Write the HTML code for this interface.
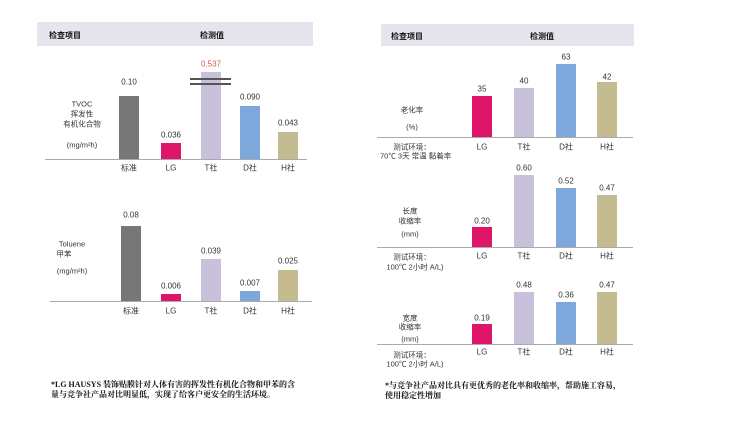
<!DOCTYPE html>
<html><head><meta charset="utf-8"><style>
body{margin:0;width:750px;height:422px;background:#fff;position:relative;overflow:hidden;font-family:"Liberation Sans","Noto Sans CJK SC",sans-serif;color:#333}
div{position:absolute}
.hd{background:#e7e4ee}
.ht{font-size:8px;font-weight:bold;color:#111;font-family:"Liberation Sans","Noto Sans CJK SC",sans-serif}
.b{width:20px}
.v{font-size:8px;color:#333;width:40px;text-align:center;transform:translateY(-50%)}
.c{font-size:8px;color:#333;width:40px;text-align:center;transform:translateY(-50%)}
.l{font-size:7.5px;color:#333;text-align:center;transform:translateY(-50%);white-space:nowrap}
.ax{height:1px;background:#aaa}
.fn{font-size:8px;font-weight:bold;color:#111;font-family:"Liberation Serif","Noto Serif CJK SC",serif;line-height:10px}
.g{background:#777}.p{background:#df1569}.t{background:#c9c1dc}.d{background:#7ea8dc}.h{background:#c5bb90}
</style></head><body>
<!-- left header -->
<div class="hd" style="left:37px;top:22px;width:276px;height:24px"></div>
<div class="ht" style="left:49px;top:30px">检查项目</div>
<div class="ht" style="left:200px;top:30px">检测值</div>

<!-- TVOC -->
<div class="ax" style="left:45px;top:159px;width:262px"></div>
<div class="b g" style="left:119px;top:96px;height:63px"></div>
<div class="b p" style="left:161px;top:143px;height:16px"></div>
<div class="b t" style="left:201px;top:72px;height:87px"></div>
<div class="b d" style="left:240px;top:106px;height:53px"></div>
<div class="b h" style="left:278px;top:132px;height:27px"></div>
<div style="left:190px;top:78px;width:41px;height:2px;background:#555"></div>
<div style="left:190px;top:83px;width:41px;height:2px;background:#555"></div>
<div class="v" style="left:109px;top:82px">0.10</div>
<div class="v" style="left:151px;top:135px">0.036</div>
<div class="v" style="left:191px;top:64px;color:#d9534f">0.537</div>
<div class="v" style="left:230px;top:97px">0.090</div>
<div class="v" style="left:268px;top:123px">0.043</div>
<div class="c" style="left:109px;top:168px">标准</div>
<div class="c" style="left:151px;top:168px">LG</div>
<div class="c" style="left:191px;top:168px">T社</div>
<div class="c" style="left:230px;top:168px">D社</div>
<div class="c" style="left:268px;top:168px">H社</div>
<div class="l" style="left:52px;width:60px;top:104px">TVOC</div>
<div class="l" style="left:52px;width:60px;top:114px">挥发性</div>
<div class="l" style="left:52px;width:60px;top:124px">有机化合物</div>
<div class="l" style="left:52px;width:60px;top:145px">(mg/m²h)</div>

<!-- Toluene -->
<div class="ax" style="left:50px;top:301px;width:262px"></div>
<div class="b g" style="left:121px;top:226px;height:75px"></div>
<div class="b p" style="left:161px;top:294px;height:7px"></div>
<div class="b t" style="left:201px;top:259px;height:42px"></div>
<div class="b d" style="left:240px;top:291px;height:10px"></div>
<div class="b h" style="left:278px;top:270px;height:31px"></div>
<div class="v" style="left:111px;top:215px">0.08</div>
<div class="v" style="left:151px;top:286px">0.006</div>
<div class="v" style="left:191px;top:251px">0.039</div>
<div class="v" style="left:230px;top:283px">0.007</div>
<div class="v" style="left:268px;top:261px">0.025</div>
<div class="c" style="left:111px;top:311px">标准</div>
<div class="c" style="left:151px;top:311px">LG</div>
<div class="c" style="left:191px;top:311px">T社</div>
<div class="c" style="left:230px;top:311px">D社</div>
<div class="c" style="left:268px;top:311px">H社</div>
<div class="l" style="left:42px;width:60px;top:244px">Toluene</div>
<div class="l" style="left:34px;width:60px;top:254px">甲苯</div>
<div class="l" style="left:42px;width:60px;top:271px">(mg/m²h)</div>
<div class="fn" style="left:51px;top:380px">*LG HAUSYS 装饰贴膜针对人体有害的挥发性有机化合物和甲苯的含<br>量与竞争社产品对比明显低，实现了给客户更安全的生活环境。</div>

<!-- right header -->
<div class="hd" style="left:381px;top:24px;width:253px;height:22px"></div>
<div class="ht" style="left:391px;top:31px">检查项目</div>
<div class="ht" style="left:530px;top:31px">检测值</div>

<!-- aging -->
<div class="ax" style="left:377px;top:137px;width:256px"></div>
<div class="b p" style="left:472px;top:96px;height:41px"></div>
<div class="b t" style="left:514px;top:88px;height:49px"></div>
<div class="b d" style="left:556px;top:64px;height:73px"></div>
<div class="b h" style="left:597px;top:82px;height:55px"></div>
<div class="v" style="left:462px;top:89px">35</div>
<div class="v" style="left:504px;top:81px">40</div>
<div class="v" style="left:546px;top:57px">63</div>
<div class="v" style="left:587px;top:77px">42</div>
<div class="c" style="left:462px;top:147px">LG</div>
<div class="c" style="left:504px;top:147px">T社</div>
<div class="c" style="left:546px;top:147px">D社</div>
<div class="c" style="left:587px;top:147px">H社</div>
<div class="l" style="left:382px;width:60px;top:110px">老化率</div>
<div class="l" style="left:382px;width:60px;top:127px">(%)</div>
<div class="l" style="left:382px;width:60px;top:147px">测试环境：</div>
<div class="l" style="left:380px;width:70px;top:156px">70℃ 3天 常温 黏着率</div>

<!-- length -->
<div class="ax" style="left:377px;top:247px;width:256px"></div>
<div class="b p" style="left:472px;top:227px;height:20px"></div>
<div class="b t" style="left:514px;top:175px;height:72px"></div>
<div class="b d" style="left:556px;top:188px;height:59px"></div>
<div class="b h" style="left:597px;top:195px;height:52px"></div>
<div class="v" style="left:462px;top:221px">0.20</div>
<div class="v" style="left:504px;top:168px">0.60</div>
<div class="v" style="left:546px;top:181px">0.52</div>
<div class="v" style="left:587px;top:188px">0.47</div>
<div class="c" style="left:462px;top:256px">LG</div>
<div class="c" style="left:504px;top:256px">T社</div>
<div class="c" style="left:546px;top:256px">D社</div>
<div class="c" style="left:587px;top:256px">H社</div>
<div class="l" style="left:385px;width:50px;top:211px">长度</div>
<div class="l" style="left:385px;width:50px;top:221px">收缩率</div>
<div class="l" style="left:385px;width:50px;top:234px">(mm)</div>
<div class="l" style="left:382px;width:60px;top:257px">测试环境：</div>
<div class="l" style="left:380px;width:70px;top:267px">100℃ 2小时 A/L)</div>

<!-- width -->
<div class="ax" style="left:377px;top:344px;width:256px"></div>
<div class="b p" style="left:472px;top:324px;height:20px"></div>
<div class="b t" style="left:514px;top:292px;height:52px"></div>
<div class="b d" style="left:556px;top:302px;height:42px"></div>
<div class="b h" style="left:597px;top:292px;height:52px"></div>
<div class="v" style="left:462px;top:318px">0.19</div>
<div class="v" style="left:504px;top:285px">0.48</div>
<div class="v" style="left:546px;top:295px">0.36</div>
<div class="v" style="left:587px;top:285px">0.47</div>
<div class="c" style="left:462px;top:352px">LG</div>
<div class="c" style="left:504px;top:352px">T社</div>
<div class="c" style="left:546px;top:352px">D社</div>
<div class="c" style="left:587px;top:352px">H社</div>
<div class="l" style="left:385px;width:50px;top:318px">宽度</div>
<div class="l" style="left:385px;width:50px;top:327px">收缩率</div>
<div class="l" style="left:385px;width:50px;top:339px">(mm)</div>
<div class="l" style="left:382px;width:60px;top:355px">测试环境：</div>
<div class="l" style="left:380px;width:70px;top:364px">100℃ 2小时 A/L)</div>
<div class="fn" style="left:385px;top:381px">*与竞争社产品对比具有更优秀的老化率和收缩率，帮助施工容易，<br>使用稳定性增加</div>
</body></html>
